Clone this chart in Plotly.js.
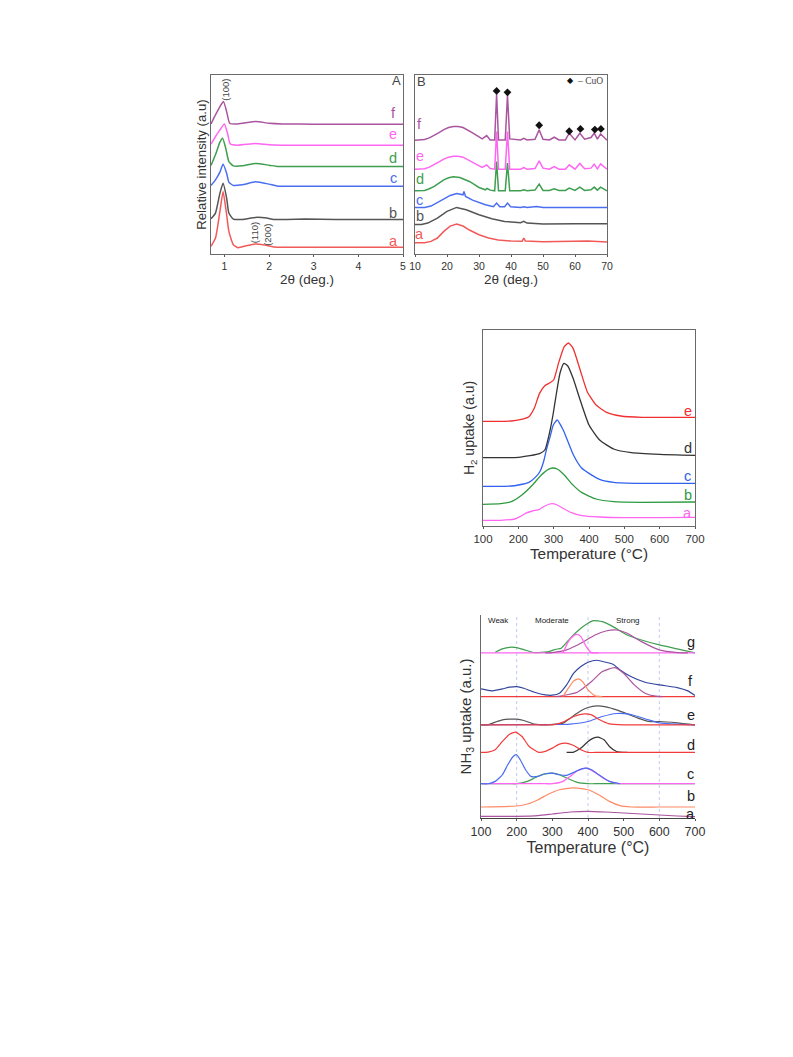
<!DOCTYPE html>
<html><head><meta charset="utf-8"><script src="https://cdn.plot.ly/plotly-3.0.1.min.js"></script>
<style>html,body{margin:0;padding:0;background:#fff}#c{width:793px;height:1057px}</style></head>
<body><div id="c"></div><script>
// Panel A: XRD low angle
const Aax=[.7,.8,.9,.97,1.05,1.1,1.2,1.3,1.4,1.6,1.7,1.9,2.1,2.4,3,4,5], Aay=[23,48,128,188,118,68,28,19,22,28,30,27,21,20,20,20,20];
const Abx=[.7,.8,.9,.97,1.05,1.1,1.2,1.4,1.7,1.95,2.1,2.4,2.8,3.5,5], Aby=[106,123,183,213,168,123,105,104,110,108,104,104,105,104,104];
const Acx=[.7,.8,.9,.97,1.05,1.1,1.2,1.4,1.7,2,2.2,2.6,3.5,5], Acy=[206,223,246,270,243,216,206,208,217,210,204,204,204,204];
const Adx=[.7,.8,.9,.96,1.03,1.1,1.2,1.4,1.7,2,2.2,2.6,3.5,5], Ady=[266,298,336,348,318,278,265,265,272,267,263,263,263,263];
const Aex=[.7,.8,.9,1,1.07,1.13,1.3,1.7,2,2.3,3,5], Aey=[330,353,373,391,363,331,327,332,328,327,327,327];
const Afx=[.7,.8,.9,.98,1.05,1.12,1.3,1.7,2,2.3,3,5], Afy=[391,418,443,458,428,393,391,398,393,391,390,390];
// Panel B: XRD wide angle
const Bax=[10,13,15,17,19,21,23,25,27,30,33,36,40,43.5,44,44.5,50,60,64,70], Bay=[34,34,38,48,68,84,90,84,72,58,48,42,39,38,48,39,37,37,39,36];
const Bbx=[10,12,14,17,20,23,26,30,34,38,43,44,45,50,60,70], Bby=[89,89,93,108,128,140,133,118,106,98,94,98,93,90,91,91];
const Bcx=[10,13,15,18,21,23,25,25.3,25.8,28,32,34.5,35.5,36.5,38,38.9,39.9,43,44,45,48,50,60,70], Bcy=[140,140,144,160,176,182,178,188,173,162,148,142,153,142,142,153,142,140,142,140,143,140,140,140];
const Bdx=[10,13,14.5,16,17.5,19,20.5,22,24,25.5,27,28.5,30,32,32.5,33.5,34.9,35.5,36.1,38.2,38.9,39.6,43,44,45,47.5,48.8,50,52,53.5,55,57,58.2,60,61.5,63,65,66,67,68,70], Bdy=[190,191,196,203,213,223,229,232,230,225,218,209,200,193,197,192,190,278,190,190,273,190,190,193,190,192,210,191,191,196,191,191,198,191,201,191,193,201,192,201,190];
const Bex=[10,13,14.5,16,17.5,19,20.5,22,23.5,25,26.5,28,29.5,31,32.4,33.5,34.9,35.5,36.1,38.2,38.9,39.6,43,44,45,47.5,48.8,50,52,53.5,55,57,58.2,60,61.5,63,65,66,67,68,70], Bey=[255,256,261,268,277,285,291,294,294,291,284,276,268,260,268,257,255,368,255,255,368,255,255,260,255,257,280,258,255,263,255,255,268,255,272,256,258,270,256,271,255];
const Bfy=[342,344,349,356,365,374,380,383,383,380,373,364,355,346,356,343,343,481,343,343,478,346,343,348,343,345,373,345,343,351,343,343,363,343,363,345,350,363,345,361,342];
const cuoX=[35.5,38.9,48.8,58.2,61.7,66.2,68.1], cuoY=[490,486,387,369,376,374,376];
// Panel C: H2 uptake
const Cax=[100,150,190,205,220,240,260,275,295,310,330,350,380,430,500,600,700], Cay=[17,17,21,28,38,45,50,60,67,63,51,40,31,27,25,25,26];
const Cbx=[100,150,180,210,240,265,285,297,310,330,350,380,420,470,550,700], Cby=[65,67,73,93,123,153,170,174,171,153,128,100,81,73,71,72];
const Ccx=[100,180,200,230,250,262,272,281,290,299,310,327,356,379,400,430,470,550,700], Ccy=[119,120,123,131,148,165,195,235,268,303,318,288,213,174,158,140,131,128,128];
const Cdx=[100,200,233,260,275,290,299,308,318,329,340,355,375,400,430,470,520,600,700], Cdy=[205,206,211,217,228,288,339,399,459,488,480,443,378,303,258,231,220,215,212];
const Cex=[100,180,205,230,245,260,275,290,300,315,330,342,355,375,395,420,450,490,550,700], Cey=[314,315,319,328,353,398,421,430,438,493,538,549,533,468,403,363,341,330,326,326];
// Panel D: NH3 uptake
const Dax=[100,200,260,300,350,400,450,500,550,600,650,700], Day=[5,5,7,12,18,20,18,15,12,9,6,4];
const Dbx=[100,200,230,260,290,320,350,370,400,430,460,490,520,600,700], Dby=[33,36,42,55,72,85,90,90,85,70,50,37,33,33,33];
const Dc1x=[100,180,200,230,250,270,300,320,340,370,400,420,700], Dc1y=[103,103,103,110,120,130,135,130,120,107,103,103,103];
const Dc2x=[100,280,300,330,350,370,395,420,450,480,500,700], Dc2y=[103,103,103,110,125,142,150,137,115,104,103,103];
const Dctx=[100,120,140,160,175,190,200,210,225,240,260,280,300,320,340,360,380,395,410,430,460,490], Dcty=[103,103,110,130,160,185,190,175,145,125,125,133,135,130,128,137,147,150,145,130,110,103];
const Dd1x=[100,120,140,160,180,197,215,235,260,280,300,320,338,360,380,400,420,700], Dd1y=[197,198,205,230,252,258,245,215,198,200,210,222,225,218,205,197,197,197];
const Dd2x=[340,360,380,400,415,428,445,460,480,510], Dd2y=[197,198,210,230,240,243,235,215,200,197];
const Detx=[100,120,140,160,180,200,220,250,280,310,330,350,380,400,425,450,480,510,540,570,600,650,700], Dety=[280,280,288,295,297,297,293,282,280,282,285,300,322,332,337,334,325,313,300,290,290,286,280];
const De1x=[100,280,300,330,360,390,410,430,460,500,520,700], De1y=[280,280,280,288,305,313,310,297,283,280,280,280];
const De2x=[100,330,350,400,440,480,510,540,570,600,650,700], De2y=[280,281,282,290,305,314,313,305,295,286,282,280];
const Dftx=[100,130,160,180,200,220,250,280,300,320,340,360,380,400,425,450,470,490,520,560,600,650,680,700], Dfty=[388,382,388,393,395,390,378,370,369,375,400,435,455,468,474,468,462,445,425,408,400,392,382,368];
const Df0x=[100,700], Df0y=[365,365];
const Df1x=[330,345,360,373,385,400,420,440], Df1y=[365,390,412,418,410,385,367,365];
const Df2x=[310,330,370,410,440,475,500,530,560,590,610], Df2y=[365,368,378,410,440,452,435,400,375,366,365];
const Dgtx=[140,160,180,200,220,250,290,310,325,350,380,400,415,440,470,510,550,600,650,700], Dgty=[498,508,513,512,506,497,500,507,510,540,570,585,593,590,575,550,535,520,508,496];
const Dg0x=[100,700], Dg0y=[496,496];
const Dg1x=[330,345,360,370,380,395,410,430], Dg1y=[496,530,548,552,545,515,497,496];
const Dg2x=[280,300,340,380,420,450,480,510,550,600,650,680], Dg2y=[496,497,505,525,550,562,565,555,530,505,497,496];

const RED='#f25a5a',GRY='#555555',BLU='#4a6ef0',GRN='#3f9e4f',MAG='#ff66f2',PUR='#a9559f',ORG='#ff8a66',NAV='#33469e',RD2='#f23c3c',BLK='#333333',H2R='#f03030',H2B='#2f62ee',H2G='#2d9a3f';
const VW=793,VH=1057,TXT='#333333',FONT='"Liberation Sans",Arial,sans-serif';
function L(sub,x,y,c,w,sm){return {type:'scatter',mode:'lines',xaxis:'x'+sub,yaxis:'y'+sub,x:x,y:y,showlegend:false,hoverinfo:'skip',
  line:sm===0?{color:c,width:w||1.5,shape:'linear'}:{color:c,width:w||1.5,shape:'spline',smoothing:sm===undefined?0.5:sm}};}
const data=[
 L('',Afx,Afy,PUR),L('',Aex,Aey,MAG),L('',Adx,Ady,GRN),L('',Acx,Acy,BLU),L('',Abx,Aby,GRY),L('',Aax,Aay,RED),
 L('2',Bdx,Bdy,GRN,1.5,0),L('2',Bex,Bey,MAG,1.5,0),L('2',Bex,Bfy,PUR,1.5,0),L('2',Bcx,Bcy,BLU,1.5,0),L('2',Bbx,Bby,GRY,1.5,0),L('2',Bax,Bay,RED,1.5,0),
 {type:'scatter',mode:'markers',xaxis:'x2',yaxis:'y2',x:cuoX,y:cuoY,showlegend:false,hoverinfo:'skip',marker:{symbol:'diamond',size:6,color:'#111'}},
 L('3',Cax,Cay,MAG,1.3),L('3',Cbx,Cby,H2G,1.3),L('3',Ccx,Ccy,H2B,1.3),L('3',Cdx,Cdy,BLK,1.3),L('3',Cex,Cey,H2R,1.3),
 L('4',Dax,Day,PUR,1.2),L('4',Dbx,Dby,ORG,1.2),
 L('4',Dc1x,Dc1y,GRN,1.2),L('4',Dc2x,Dc2y,MAG,1.3),L('4',Dctx,Dcty,BLU,1.2),
 L('4',Dd2x,Dd2y,BLK,1.2),L('4',Dd1x,Dd1y,RD2,1.2),
 L('4',Detx,Dety,GRY,1.2),L('4',De2x,De2y,BLU,1.2),L('4',De1x,De1y,RD2,1.2),
 L('4',Df0x,Df0y,RD2,1.2),L('4',Dftx,Dfty,NAV,1.2),L('4',Df2x,Df2y,PUR,1.2),L('4',Df1x,Df1y,ORG,1.2),
 L('4',Dgtx,Dgty,GRN,1.2),L('4',Dg0x,Dg0y,MAG,1.3),L('4',Dg2x,Dg2y,PUR,1.2),L('4',Dg1x,Dg1y,MAG,1.3)
];
function ax(l,r,range,dt,tit,tf,tk,so,mir){return {domain:[l/VW,r/VW],range:range,dtick:dt,tick0:0,ticks:'outside',ticklen:2,tickcolor:'#555',
  showline:true,mirror:mir,linecolor:mir?'#6a6a6a':'#444',linewidth:1,showgrid:false,zeroline:false,tickfont:{size:tk,color:TXT,family:FONT},
  title:{text:tit,font:{size:tf,color:TXT,family:FONT},standoff:so}};}
function ay(t,b,range,tit,tf,so,mir){const o={domain:[1-b/VH,1-t/VH],range:range,showticklabels:false,ticks:'',
  showline:true,mirror:mir,linecolor:'#6a6a6a',linewidth:1,showgrid:false,zeroline:false};
  if(tit)o.title={text:tit,font:{size:tf,color:TXT,family:FONT},standoff:so};return o;}
const layout={width:VW,height:VH,margin:{l:0,r:0,t:0,b:0},paper_bgcolor:'#fff',plot_bgcolor:'#fff',showlegend:false,
 xaxis:Object.assign(ax(211,403,[.7,5],1,'2θ (deg.)',13.5,10.5,2,true),{anchor:'y'}),
 yaxis:Object.assign(ay(75,254,[0,538],'Relative intensity (a.u)',13.2,0,true),{anchor:'x'}),
 xaxis2:Object.assign(ax(415,607,[10,70],10,'2θ (deg.)',13.5,10.5,2,true),{anchor:'y2'}),
 yaxis2:Object.assign(ay(75,254,[0,538],'',12,4,true),{anchor:'x2'}),
 xaxis3:Object.assign(ax(483,695,[100,700],100,'Temperature (°C)',15.4,11.5,2,true),{anchor:'y3'}),
 yaxis3:Object.assign(ay(330,526,[0,588],'H<sub>2</sub> uptake (a.u)',14,4,true),{anchor:'x3'}),
 xaxis4:Object.assign(ax(481,695,[100,700],100,'Temperature (°C)',16,12.5,2,false),{anchor:'y4'}),
 yaxis4:Object.assign(ay(615,818,[0,610],'NH<sub>3</sub> uptake (a.u.)',15,4,false),{anchor:'x4'}),
 shapes:[200,400,600].map(v=>({type:'line',xref:'x4',yref:'paper',x0:v,x1:v,y0:1-818/VH,y1:1-615/VH,line:{color:'#b4bdf2',width:.8,dash:'dot'},layer:'below'})),
 annotations:[]
};
function T(sub,x,y,t,c,s,o){layout.annotations.push(Object.assign({xref:'x'+sub,yref:'y'+sub,x:x,y:y,text:t,showarrow:false,font:{size:s,color:c,family:FONT},xanchor:'center',yanchor:'middle'},o||{}));}
[['f',4.78,425,PUR],['e',4.78,360,MAG],['d',4.78,290,GRN],['c',4.78,228,BLU],['b',4.78,124,GRY],['a',4.78,40,RED]].forEach(a=>T('',a[1],a[2],a[0],a[3],14.5));
T('',4.86,520,'A','#444',13);
T('',1.03,493,'(100)','#444',9.5,{textangle:-90});
T('',1.67,63,'(110)','#444',9.5,{textangle:-90});
T('',1.98,58,'(200)','#444',9.5,{textangle:-90});
[['f',11.5,392,PUR],['e',11.5,295,MAG],['d',11.5,225,GRN],['c',11.5,162,BLU],['b',11.5,113,GRY],['a',11.5,60,RED]].forEach(a=>T('2',a[1],a[2],a[0],a[3],14.5));
T('2',11.9,518,'B','#444',13);
T('2',58.6,520,'◆','#111',8);
T('2',64.7,520,'– CuO','#444',9,{font:{size:9.5,color:'#444',family:'"Liberation Serif",serif'}});
[['a',40,MAG],['b',93,H2G],['c',150,H2B],['d',233,BLK],['e',346,H2R]].forEach(a=>T('3',680,a[1],a[0],a[2],14.5));
[['a',13],['b',66],['c',133],['d',218],['e',310],['f',412],['g',530]].forEach(a=>T('4',688,a[1],a[0],'#222',14.5));
T('4',150,593,'Weak','#222',8);T('4',298,593,'Moderate','#222',8);T('4',513,593,'Strong','#222',8);
Plotly.newPlot('c',data,layout,{staticPlot:true,displayModeBar:false});
</script></body></html>
